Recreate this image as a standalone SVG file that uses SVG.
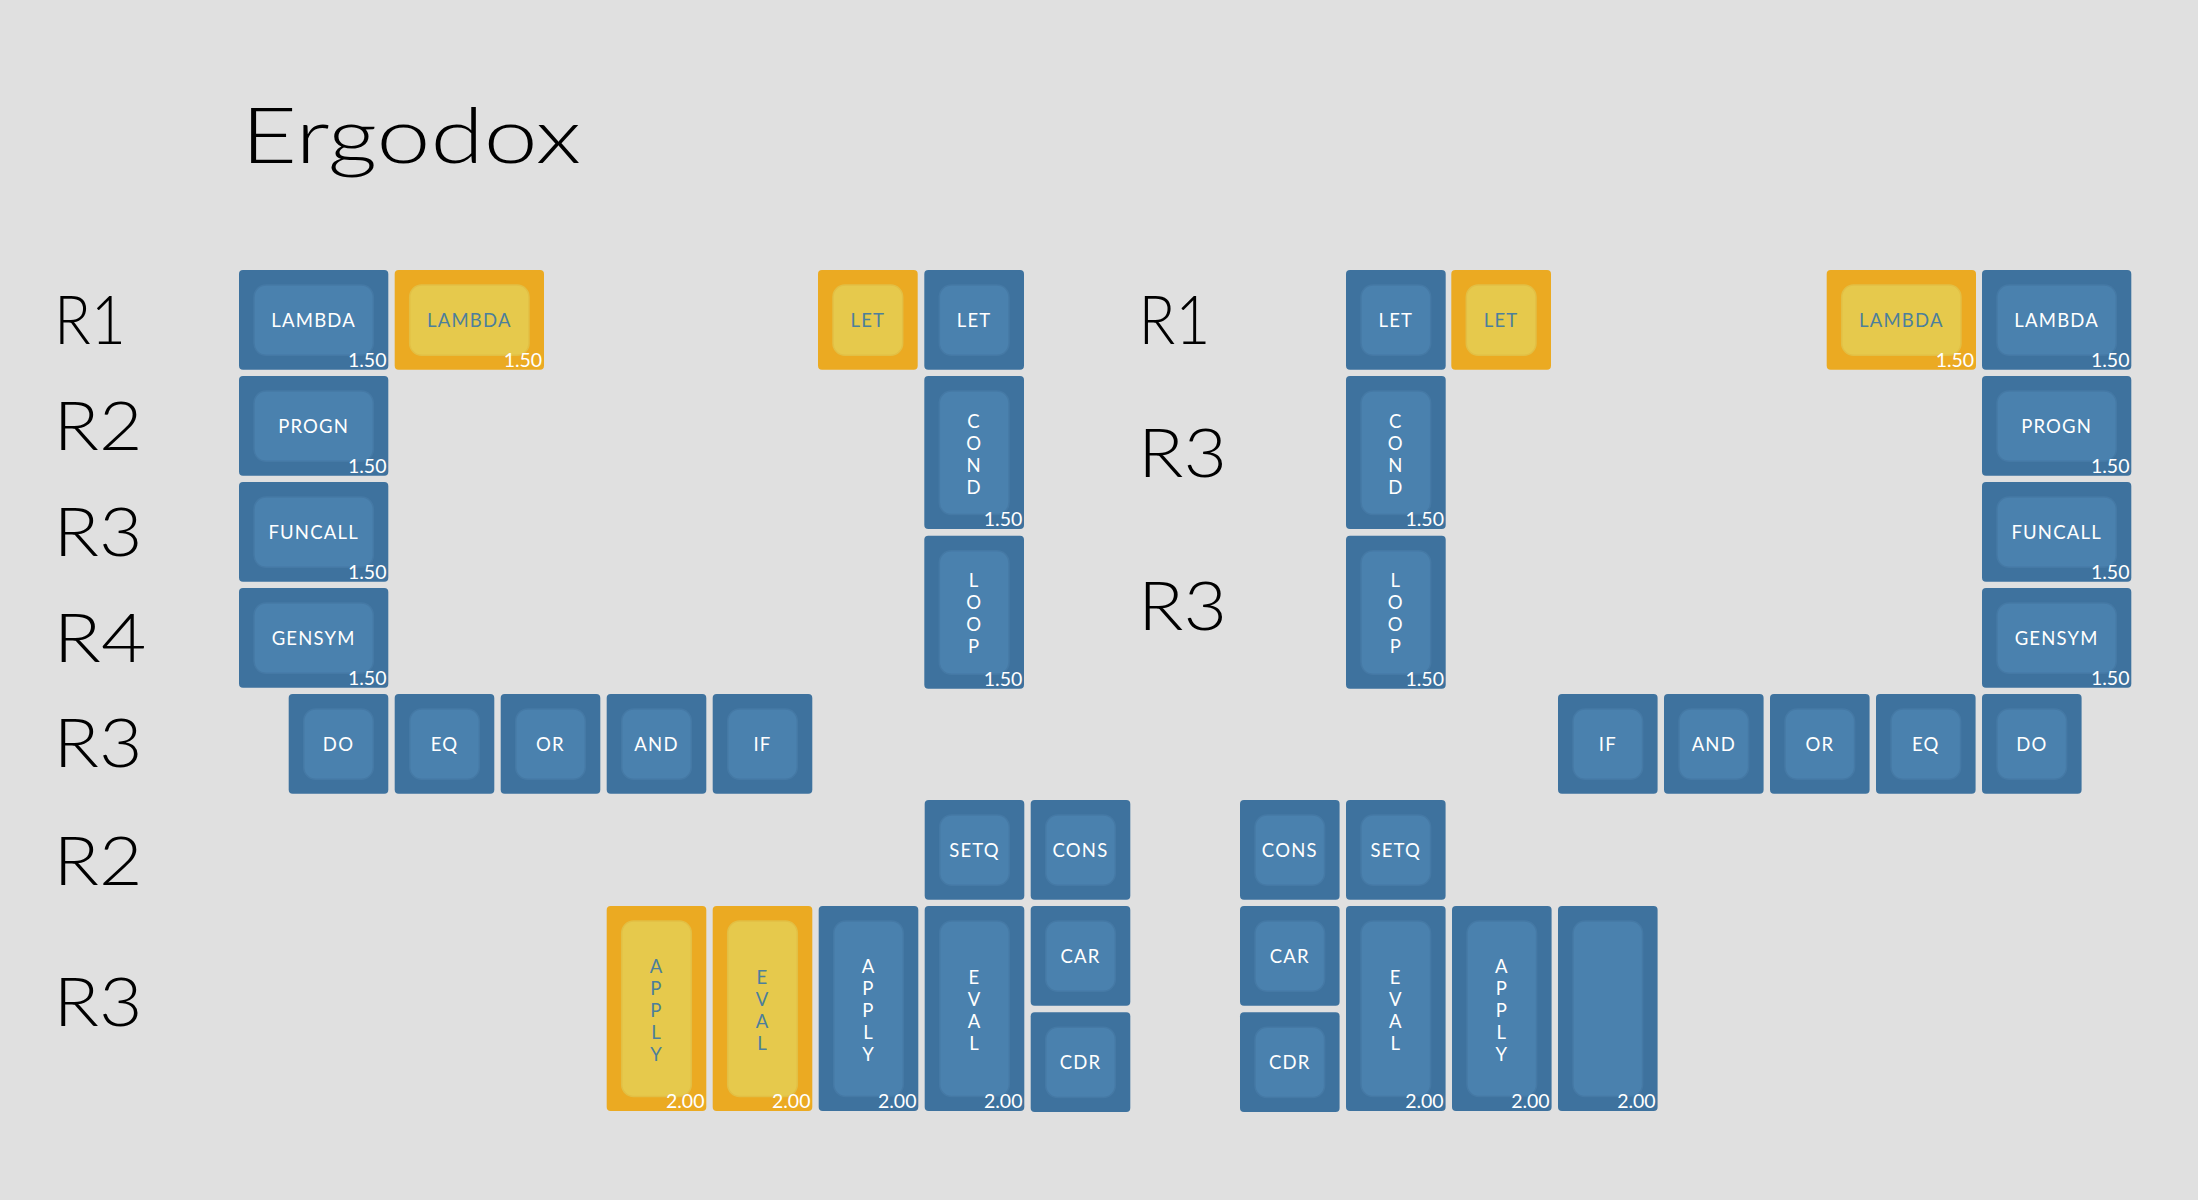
<svg xmlns="http://www.w3.org/2000/svg" width="2198" height="1200" viewBox="0 0 2198 1200">
<style>
.bg{fill:#e0e0e0}
.bo{fill:#3e729e}
.bi{fill:#4a81ae;stroke:#4579a5;stroke-width:1.5}
.yo{fill:#ebaa22}
.yi{fill:#e6c94c;stroke:#e2bf44;stroke-width:1.5}
.lw{font-family:Lato,"Open Sans",sans-serif;font-size:18.5px;fill:#ffffff;text-anchor:middle;letter-spacing:1.2px}
.ly{font-family:Lato,"Open Sans",sans-serif;font-size:18.5px;fill:#4c7f9c;text-anchor:middle;letter-spacing:1.2px}
.sz{font-family:Lato,"Open Sans",sans-serif;font-size:19.5px;fill:#ffffff;text-anchor:end}
.rl{font-family:Lato,"Liberation Sans",sans-serif;font-weight:300;font-size:67px;fill:#000000}
.tt{font-family:Lato,"Liberation Sans",sans-serif;font-weight:300;font-size:77px;fill:#000000}
</style>
<rect class="bg" x="0" y="0" width="2198" height="1200"/>
<g id="title"><text class="tt" x="241" y="163" textLength="340" lengthAdjust="spacingAndGlyphs">Ergodox</text></g>
<g id="row-labels">
<text class="rl" x="54" y="343.5" textLength="72" lengthAdjust="spacingAndGlyphs">R1</text>
<text class="rl" x="53.5" y="450" textLength="89" lengthAdjust="spacingAndGlyphs">R2</text>
<text class="rl" x="53.5" y="556" textLength="89" lengthAdjust="spacingAndGlyphs">R3</text>
<text class="rl" x="53.5" y="662" textLength="93" lengthAdjust="spacingAndGlyphs">R4</text>
<text class="rl" x="53.5" y="767" textLength="89" lengthAdjust="spacingAndGlyphs">R3</text>
<text class="rl" x="53.5" y="884.5" textLength="89" lengthAdjust="spacingAndGlyphs">R2</text>
<text class="rl" x="53.5" y="1026" textLength="89" lengthAdjust="spacingAndGlyphs">R3</text>
<text class="rl" x="1138.5" y="344" textLength="72" lengthAdjust="spacingAndGlyphs">R1</text>
<text class="rl" x="1138" y="477" textLength="89" lengthAdjust="spacingAndGlyphs">R3</text>
<text class="rl" x="1138" y="630" textLength="89" lengthAdjust="spacingAndGlyphs">R3</text>
</g>
<g id="connectors"></g>
<!-- Left half -->
<g id="k-l-lambda"><rect class="bo" x="239" y="270" width="149.3" height="99.7" rx="4"/><rect class="bi" x="254" y="285" width="119.3" height="70.2" rx="12"/><text class="lw" x="313.65" y="326.8">LAMBDA</text><text class="sz" x="386.5" y="367.3">1.50</text></g>
<g id="k-l-lambda-y"><rect class="yo" x="394.7" y="270" width="149.3" height="99.7" rx="4"/><rect class="yi" x="409.7" y="285" width="119.3" height="70.2" rx="12"/><text class="ly" x="469.35" y="326.8">LAMBDA</text><text class="sz" x="542.2" y="367.3">1.50</text></g>
<g id="k-l-let-y"><rect class="yo" x="818" y="270" width="99.7" height="99.7" rx="4"/><rect class="yi" x="833" y="285" width="69.7" height="70.2" rx="12"/><text class="ly" x="867.85" y="326.8">LET</text></g>
<g id="k-l-let"><rect class="bo" x="924.3" y="270" width="99.7" height="99.7" rx="4"/><rect class="bi" x="939.3" y="285" width="69.7" height="70.2" rx="12"/><text class="lw" x="974.15" y="326.8">LET</text></g>
<g id="k-l-progn"><rect class="bo" x="239" y="376" width="149.3" height="99.7" rx="4"/><rect class="bi" x="254" y="391" width="119.3" height="70.2" rx="12"/><text class="lw" x="313.65" y="432.8">PROGN</text><text class="sz" x="386.5" y="473.3">1.50</text></g>
<g id="k-l-funcall"><rect class="bo" x="239" y="482" width="149.3" height="99.7" rx="4"/><rect class="bi" x="254" y="497" width="119.3" height="70.2" rx="12"/><text class="lw" x="313.65" y="538.8">FUNCALL</text><text class="sz" x="386.5" y="579.3">1.50</text></g>
<g id="k-l-gensym"><rect class="bo" x="239" y="588" width="149.3" height="99.7" rx="4"/><rect class="bi" x="254" y="603" width="119.3" height="70.2" rx="12"/><text class="lw" x="313.65" y="644.8">GENSYM</text><text class="sz" x="386.5" y="685.3">1.50</text></g>
<g id="k-l-cond"><rect class="bo" x="924.3" y="376" width="99.7" height="153" rx="4"/><rect class="bi" x="939.3" y="391" width="69.7" height="123.5" rx="12"/><text class="lw"><tspan x="974.15" y="428.2">C</tspan><tspan x="974.15" y="450.2">O</tspan><tspan x="974.15" y="472.2">N</tspan><tspan x="974.15" y="494.2">D</tspan></text><text class="sz" x="1022.3" y="526">1.50</text></g>
<g id="k-l-loop"><rect class="bo" x="924.3" y="535.7" width="99.7" height="153" rx="4"/><rect class="bi" x="939.3" y="550.7" width="69.7" height="123.5" rx="12"/><text class="lw"><tspan x="974.15" y="587.2">L</tspan><tspan x="974.15" y="609.2">O</tspan><tspan x="974.15" y="631.2">O</tspan><tspan x="974.15" y="653.2">P</tspan></text><text class="sz" x="1022.3" y="685.7">1.50</text></g>
<g id="k-l-do"><rect class="bo" x="288.7" y="694" width="99.6" height="99.7" rx="4"/><rect class="bi" x="303.7" y="709" width="69.6" height="70.2" rx="12"/><text class="lw" x="338.5" y="750.8">DO</text></g>
<g id="k-l-eq"><rect class="bo" x="394.7" y="694" width="99.6" height="99.7" rx="4"/><rect class="bi" x="409.7" y="709" width="69.6" height="70.2" rx="12"/><text class="lw" x="444.5" y="750.8">EQ</text></g>
<g id="k-l-or"><rect class="bo" x="500.7" y="694" width="99.6" height="99.7" rx="4"/><rect class="bi" x="515.7" y="709" width="69.6" height="70.2" rx="12"/><text class="lw" x="550.5" y="750.8">OR</text></g>
<g id="k-l-and"><rect class="bo" x="606.7" y="694" width="99.6" height="99.7" rx="4"/><rect class="bi" x="621.7" y="709" width="69.6" height="70.2" rx="12"/><text class="lw" x="656.5" y="750.8">AND</text></g>
<g id="k-l-if"><rect class="bo" x="712.7" y="694" width="99.6" height="99.7" rx="4"/><rect class="bi" x="727.7" y="709" width="69.6" height="70.2" rx="12"/><text class="lw" x="762.5" y="750.8">IF</text></g>
<g id="k-l-setq"><rect class="bo" x="924.7" y="800" width="99.6" height="99.7" rx="4"/><rect class="bi" x="939.7" y="815" width="69.6" height="70.2" rx="12"/><text class="lw" x="974.5" y="856.8">SETQ</text></g>
<g id="k-l-cons"><rect class="bo" x="1030.7" y="800" width="99.6" height="99.7" rx="4"/><rect class="bi" x="1045.7" y="815" width="69.6" height="70.2" rx="12"/><text class="lw" x="1080.5" y="856.8">CONS</text></g>
<g id="k-l-apply-y"><rect class="yo" x="606.7" y="906" width="99.6" height="205" rx="4"/><rect class="yi" x="621.7" y="921" width="69.6" height="175.5" rx="12"/><text class="ly"><tspan x="656.5" y="973.2">A</tspan><tspan x="656.5" y="995.2">P</tspan><tspan x="656.5" y="1017.2">P</tspan><tspan x="656.5" y="1039.2">L</tspan><tspan x="656.5" y="1061.2">Y</tspan></text><text class="sz" x="704.5" y="1108.3">2.00</text></g>
<g id="k-l-eval-y"><rect class="yo" x="712.7" y="906" width="99.6" height="205" rx="4"/><rect class="yi" x="727.7" y="921" width="69.6" height="175.5" rx="12"/><text class="ly"><tspan x="762.5" y="984.2">E</tspan><tspan x="762.5" y="1006.2">V</tspan><tspan x="762.5" y="1028.2">A</tspan><tspan x="762.5" y="1050.2">L</tspan></text><text class="sz" x="810.5" y="1108.3">2.00</text></g>
<g id="k-l-apply"><rect class="bo" x="818.7" y="906" width="99.6" height="205" rx="4"/><rect class="bi" x="833.7" y="921" width="69.6" height="175.5" rx="12"/><text class="lw"><tspan x="868.5" y="973.2">A</tspan><tspan x="868.5" y="995.2">P</tspan><tspan x="868.5" y="1017.2">P</tspan><tspan x="868.5" y="1039.2">L</tspan><tspan x="868.5" y="1061.2">Y</tspan></text><text class="sz" x="916.5" y="1108.3">2.00</text></g>
<g id="k-l-eval"><rect class="bo" x="924.7" y="906" width="99.6" height="205" rx="4"/><rect class="bi" x="939.7" y="921" width="69.6" height="175.5" rx="12"/><text class="lw"><tspan x="974.5" y="984.2">E</tspan><tspan x="974.5" y="1006.2">V</tspan><tspan x="974.5" y="1028.2">A</tspan><tspan x="974.5" y="1050.2">L</tspan></text><text class="sz" x="1022.5" y="1108.3">2.00</text></g>
<g id="k-l-car"><rect class="bo" x="1030.7" y="906" width="99.6" height="99.7" rx="4"/><rect class="bi" x="1045.7" y="921" width="69.6" height="70.2" rx="12"/><text class="lw" x="1080.5" y="962.8">CAR</text></g>
<g id="k-l-cdr"><rect class="bo" x="1030.7" y="1012.3" width="99.6" height="99.7" rx="4"/><rect class="bi" x="1045.7" y="1027.3" width="69.6" height="70.2" rx="12"/><text class="lw" x="1080.5" y="1069.1">CDR</text></g>
<!-- Right half -->
<g id="k-r-let"><rect class="bo" x="1346" y="270" width="99.7" height="99.7" rx="4"/><rect class="bi" x="1361" y="285" width="69.7" height="70.2" rx="12"/><text class="lw" x="1395.85" y="326.8">LET</text></g>
<g id="k-r-let-y"><rect class="yo" x="1451.3" y="270" width="99.7" height="99.7" rx="4"/><rect class="yi" x="1466.3" y="285" width="69.7" height="70.2" rx="12"/><text class="ly" x="1501.15" y="326.8">LET</text></g>
<g id="k-r-lambda-y"><rect class="yo" x="1826.7" y="270" width="149.3" height="99.7" rx="4"/><rect class="yi" x="1841.7" y="285" width="119.3" height="70.2" rx="12"/><text class="ly" x="1901.35" y="326.8">LAMBDA</text><text class="sz" x="1974.2" y="367.3">1.50</text></g>
<g id="k-r-lambda"><rect class="bo" x="1982" y="270" width="149.3" height="99.7" rx="4"/><rect class="bi" x="1997" y="285" width="119.3" height="70.2" rx="12"/><text class="lw" x="2056.65" y="326.8">LAMBDA</text><text class="sz" x="2129.5" y="367.3">1.50</text></g>
<g id="k-r-progn"><rect class="bo" x="1982" y="376" width="149.3" height="99.7" rx="4"/><rect class="bi" x="1997" y="391" width="119.3" height="70.2" rx="12"/><text class="lw" x="2056.65" y="432.8">PROGN</text><text class="sz" x="2129.5" y="473.3">1.50</text></g>
<g id="k-r-funcall"><rect class="bo" x="1982" y="482" width="149.3" height="99.7" rx="4"/><rect class="bi" x="1997" y="497" width="119.3" height="70.2" rx="12"/><text class="lw" x="2056.65" y="538.8">FUNCALL</text><text class="sz" x="2129.5" y="579.3">1.50</text></g>
<g id="k-r-gensym"><rect class="bo" x="1982" y="588" width="149.3" height="99.7" rx="4"/><rect class="bi" x="1997" y="603" width="119.3" height="70.2" rx="12"/><text class="lw" x="2056.65" y="644.8">GENSYM</text><text class="sz" x="2129.5" y="685.3">1.50</text></g>
<g id="k-r-cond"><rect class="bo" x="1346" y="376" width="99.7" height="153" rx="4"/><rect class="bi" x="1361" y="391" width="69.7" height="123.5" rx="12"/><text class="lw"><tspan x="1395.85" y="428.2">C</tspan><tspan x="1395.85" y="450.2">O</tspan><tspan x="1395.85" y="472.2">N</tspan><tspan x="1395.85" y="494.2">D</tspan></text><text class="sz" x="1444" y="526">1.50</text></g>
<g id="k-r-loop"><rect class="bo" x="1346" y="535.7" width="99.7" height="153" rx="4"/><rect class="bi" x="1361" y="550.7" width="69.7" height="123.5" rx="12"/><text class="lw"><tspan x="1395.85" y="587.2">L</tspan><tspan x="1395.85" y="609.2">O</tspan><tspan x="1395.85" y="631.2">O</tspan><tspan x="1395.85" y="653.2">P</tspan></text><text class="sz" x="1444" y="685.7">1.50</text></g>
<g id="k-r-if"><rect class="bo" x="1558" y="694" width="99.6" height="99.7" rx="4"/><rect class="bi" x="1573" y="709" width="69.6" height="70.2" rx="12"/><text class="lw" x="1607.8" y="750.8">IF</text></g>
<g id="k-r-and"><rect class="bo" x="1664" y="694" width="99.6" height="99.7" rx="4"/><rect class="bi" x="1679" y="709" width="69.6" height="70.2" rx="12"/><text class="lw" x="1713.8" y="750.8">AND</text></g>
<g id="k-r-or"><rect class="bo" x="1770" y="694" width="99.6" height="99.7" rx="4"/><rect class="bi" x="1785" y="709" width="69.6" height="70.2" rx="12"/><text class="lw" x="1819.8" y="750.8">OR</text></g>
<g id="k-r-eq"><rect class="bo" x="1876" y="694" width="99.6" height="99.7" rx="4"/><rect class="bi" x="1891" y="709" width="69.6" height="70.2" rx="12"/><text class="lw" x="1925.8" y="750.8">EQ</text></g>
<g id="k-r-do"><rect class="bo" x="1982" y="694" width="99.6" height="99.7" rx="4"/><rect class="bi" x="1997" y="709" width="69.6" height="70.2" rx="12"/><text class="lw" x="2031.8" y="750.8">DO</text></g>
<g id="k-r-cons"><rect class="bo" x="1240" y="800" width="99.6" height="99.7" rx="4"/><rect class="bi" x="1255" y="815" width="69.6" height="70.2" rx="12"/><text class="lw" x="1289.8" y="856.8">CONS</text></g>
<g id="k-r-setq"><rect class="bo" x="1346" y="800" width="99.6" height="99.7" rx="4"/><rect class="bi" x="1361" y="815" width="69.6" height="70.2" rx="12"/><text class="lw" x="1395.8" y="856.8">SETQ</text></g>
<g id="k-r-car"><rect class="bo" x="1240" y="906" width="99.6" height="99.7" rx="4"/><rect class="bi" x="1255" y="921" width="69.6" height="70.2" rx="12"/><text class="lw" x="1289.8" y="962.8">CAR</text></g>
<g id="k-r-cdr"><rect class="bo" x="1240" y="1012.3" width="99.6" height="99.7" rx="4"/><rect class="bi" x="1255" y="1027.3" width="69.6" height="70.2" rx="12"/><text class="lw" x="1289.8" y="1069.1">CDR</text></g>
<g id="k-r-eval"><rect class="bo" x="1346" y="906" width="99.6" height="205" rx="4"/><rect class="bi" x="1361" y="921" width="69.6" height="175.5" rx="12"/><text class="lw"><tspan x="1395.8" y="984.2">E</tspan><tspan x="1395.8" y="1006.2">V</tspan><tspan x="1395.8" y="1028.2">A</tspan><tspan x="1395.8" y="1050.2">L</tspan></text><text class="sz" x="1443.7" y="1108.3">2.00</text></g>
<g id="k-r-apply"><rect class="bo" x="1452" y="906" width="99.6" height="205" rx="4"/><rect class="bi" x="1467" y="921" width="69.6" height="175.5" rx="12"/><text class="lw"><tspan x="1501.8" y="973.2">A</tspan><tspan x="1501.8" y="995.2">P</tspan><tspan x="1501.8" y="1017.2">P</tspan><tspan x="1501.8" y="1039.2">L</tspan><tspan x="1501.8" y="1061.2">Y</tspan></text><text class="sz" x="1549.7" y="1108.3">2.00</text></g>
<g id="k-r-blank"><rect class="bo" x="1558" y="906" width="99.6" height="205" rx="4"/><rect class="bi" x="1573" y="921" width="69.6" height="175.5" rx="12"/><text class="sz" x="1655.7" y="1108.3">2.00</text></g>
</svg>
